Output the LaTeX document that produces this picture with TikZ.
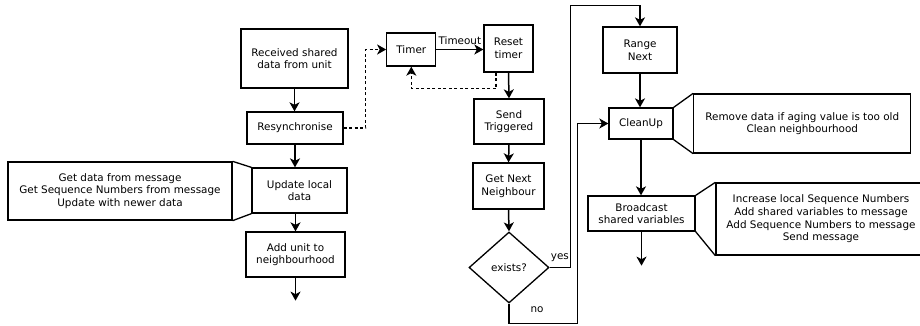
\documentclass[tikz,border=0pt]{standalone}
\usepackage{fontspec}
\setmainfont{DejaVu Sans}
\usetikzlibrary{arrows.meta,shapes.geometric}
\begin{document}
\begin{tikzpicture}[x=1pt,y=-1pt,
  txt/.style={font=\fontsize{10.4}{12.7}\selectfont, align=center, inner sep=0pt},
  box/.style={txt, draw, line width=1.3pt, rectangle},
  callout/.style={txt, draw, line width=1.3pt, rectangle},
  flow/.style={line width=1.5pt, -{Stealth[length=9pt,width=10pt,inset=2.5pt]}},
  dflow/.style={flow, dash pattern=on 3pt off 2.5pt},
  cline/.style={line width=1.3pt}]
\useasboundingbox (0,0) rectangle (920,325);

% left column
\node[box, minimum width=107pt, minimum height=59pt] (recv) at (294.5,58.5) {Received shared\\data from unit};
\node[box, minimum width=96pt, minimum height=32pt] (resync) at (295,128) {Resynchronise};
\node[box, minimum width=95pt, minimum height=45pt] (upd) at (299.5,190.5) {Update local\\data};
\node[box, minimum width=99pt, minimum height=45pt] (addu) at (295.5,254.5) {Add unit to\\neighbourhood};
\node[callout, minimum width=224pt, minimum height=58pt] (cl) at (120,191) {Get data from message\\Get Sequence Numbers from message\\Update with newer data};

% middle column
\node[box, minimum width=49pt, minimum height=33pt] (timer) at (411.3,49.5) {Timer};
\node[box, minimum width=49pt, minimum height=47pt] (reset) at (508.5,48.5) {Reset\\timer};
\node[box, minimum width=70pt, minimum height=45pt] (send) at (509,121.5) {Send\\Triggered};
\node[box, minimum width=71pt, minimum height=46pt] (getn) at (508.5,186) {Get Next\\Neighbour};
\node[txt, draw, line width=1.3pt, diamond, minimum width=80pt, minimum height=71pt] (ex) at (509,267.5) {exists?};

% right column
\node[box, minimum width=74pt, minimum height=46pt] (range) at (640,50) {Range\\Next};
\node[box, minimum width=64pt, minimum height=31pt] (clean) at (641,123.5) {CleanUp};
\node[box, minimum width=107pt, minimum height=35pt] (bcast) at (641.5,213.5) {Broadcast\\shared variables};
\node[callout, minimum width=217pt, minimum height=59pt] (cr1) at (802.3,123.5) {Remove data if aging value is too old\\Clean neighbourhood};
\node[callout, minimum width=210pt, minimum height=72pt] (cr2) at (821,219) {Increase local Sequence Numbers\\Add shared variables to message\\Add Sequence Numbers to message\\Send message};

% callout joins
\draw[cline] (cl.north east) -- (upd.north west);
\draw[cline] (cl.south east) -- (upd.south west);
\draw[cline] (clean.north east) -- (cr1.north west);
\draw[cline] (clean.south east) -- (cr1.south west);
\draw[cline] (bcast.north east) -- (cr2.north west);
\draw[cline] (bcast.south east) -- (cr2.south west);

% left flow
\draw[flow] (recv.south) -- (recv.south |- resync.north);
\draw[flow] (resync.south) -- (resync.south |- upd.north);
\draw[flow] (addu.north |- upd.south) -- (addu.north);
\coordinate (aend) at ([yshift=-23pt]addu.south);
\draw[flow] (addu.south) -- (aend);

% timer loop
\draw[dflow] (resync.east) -- ++(22,0) |- (timer.west);
\draw[flow] (timer.east) -- node[txt, above, inner sep=1.5pt, yshift=3pt] (tlab) {Timeout} (timer.east -| reset.west);
\draw[dflow] ([xshift=-12.5pt]reset.south) -- ++(0,16) -| (timer.south);
\draw[flow] (reset.south) -- (send.north);
\draw[flow] (send.south) -- (getn.north);
\draw[flow] (getn.south) -- (ex.north);

% yes / no
\draw[flow] (ex.east) -- ++(20.7,0) |- ([yshift=21pt]range.north) -- (range.north);
\node[txt, anchor=south west] (yes) at ([xshift=1pt,yshift=6pt]ex.east) {yes};
\draw[flow] (ex.south) -- ++(0,20) -| ([xshift=-31pt]clean.west) -- (clean.west);
\node[txt] (no) at ([xshift=28pt,yshift=-6pt]ex.south) {no};

% right flow
\draw[flow] (range.south) -- (range.south |- clean.north);
\draw[flow] (clean.south) -- (clean.south |- bcast.north);
\coordinate (bend) at ([yshift=-34pt]bcast.south);
\draw[flow] (bcast.south) -- (bend);
\end{tikzpicture}
\end{document}
